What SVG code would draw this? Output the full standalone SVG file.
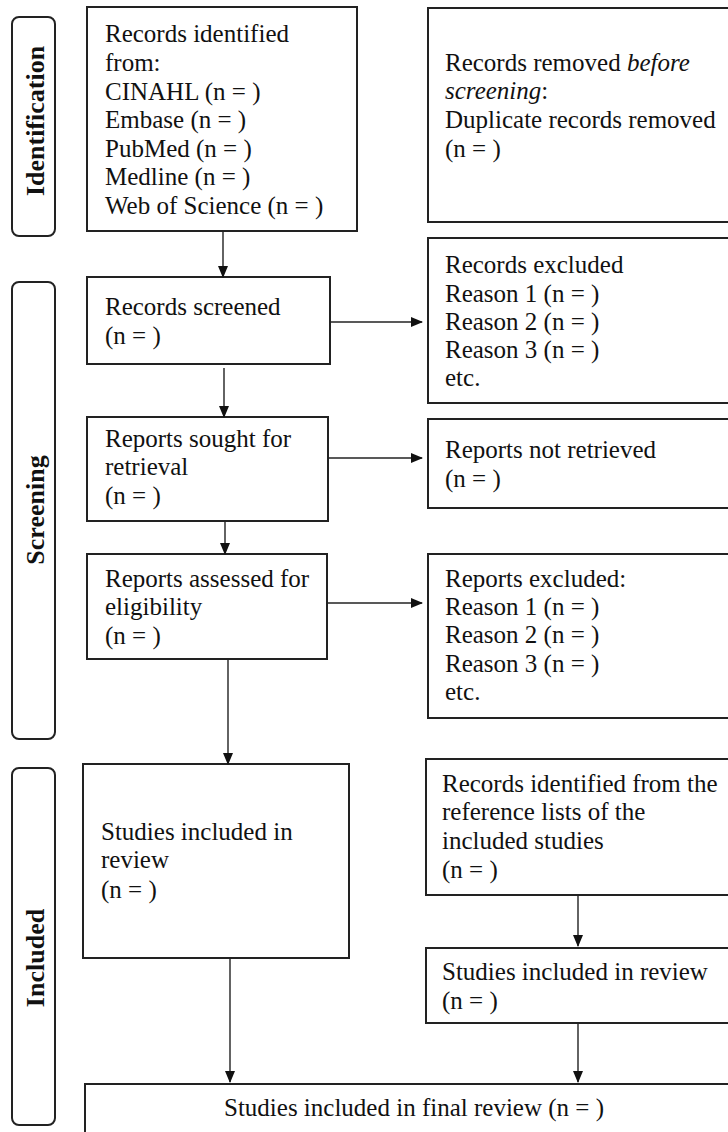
<svg xmlns="http://www.w3.org/2000/svg" width="728" height="1132" viewBox="0 0 728 1132">
<style>
.box{fill:#fff;stroke:#222;stroke-width:2}
.lab{fill:#fff;stroke:#222;stroke-width:2}
.t{font-family:"Liberation Serif","Times New Roman",serif;font-size:25px;fill:#111}
.side{font-family:"Liberation Serif","Times New Roman",serif;font-size:26px;font-weight:bold;fill:#111}
.ln{stroke:#222;stroke-width:1.4;fill:none}
</style>
<defs>
<marker id="ah" markerWidth="12" markerHeight="10" refX="11" refY="5" orient="auto" markerUnits="userSpaceOnUse">
<path d="M0,0 L12,5 L0,10 Z" fill="#111"/>
</marker>
</defs>
<rect width="728" height="1132" fill="#fff"/>
<g id="label-identification">
<rect class="lab" x="12" y="17" width="43" height="219" rx="7"/>
<text class="side" transform="translate(44,121) rotate(-90)" text-anchor="middle">Identification</text>
</g>
<g id="label-screening">
<rect class="lab" x="12" y="282" width="43" height="457" rx="7"/>
<text class="side" transform="translate(44,510) rotate(-90)" text-anchor="middle">Screening</text>
</g>
<g id="label-included">
<rect class="lab" x="12" y="768" width="43" height="357" rx="7"/>
<text class="side" transform="translate(44,958) rotate(-90)" text-anchor="middle">Included</text>
</g>
<g id="records-identified">
<rect class="box" x="87" y="7" width="270" height="224"/>
<text class="t" x="105" y="42">Records identified</text>
<text class="t" x="105" y="71">from:</text>
<text class="t" x="105" y="100">CINAHL (n = )</text>
<text class="t" x="105" y="128">Embase (n = )</text>
<text class="t" x="105" y="157">PubMed (n = )</text>
<text class="t" x="105" y="185">Medline (n = )</text>
<text class="t" x="105" y="214">Web of Science (n = )</text>
</g>
<g id="records-removed">
<rect class="box" x="428" y="8" width="320" height="214"/>
<text class="t" x="445" y="71">Records removed <tspan font-style="italic">before</tspan></text>
<text class="t" x="445" y="99"><tspan font-style="italic">screening</tspan>:</text>
<text class="t" x="445" y="128">Duplicate records removed</text>
<text class="t" x="445" y="157">(n = )</text>
</g>
<g id="records-screened">
<rect class="box" x="87" y="277" width="243" height="87"/>
<text class="t" x="105" y="315">Records screened</text>
<text class="t" x="105" y="344">(n = )</text>
</g>
<g id="records-excluded">
<rect class="box" x="428" y="238" width="320" height="165"/>
<text class="t" x="445" y="273">Records excluded</text>
<text class="t" x="445" y="302">Reason 1 (n = )</text>
<text class="t" x="445" y="330">Reason 2 (n = )</text>
<text class="t" x="445" y="358">Reason 3 (n = )</text>
<text class="t" x="445" y="386">etc.</text>
</g>
<g id="reports-sought">
<rect class="box" x="87" y="417" width="241" height="104"/>
<text class="t" x="105" y="447">Reports sought for</text>
<text class="t" x="105" y="475">retrieval</text>
<text class="t" x="105" y="504">(n = )</text>
</g>
<g id="reports-not-retrieved">
<rect class="box" x="428" y="419" width="320" height="89"/>
<text class="t" x="445" y="458">Reports not retrieved</text>
<text class="t" x="445" y="487">(n = )</text>
</g>
<g id="reports-assessed">
<rect class="box" x="87" y="554" width="240" height="105"/>
<text class="t" x="105" y="587">Reports assessed for</text>
<text class="t" x="105" y="615">eligibility</text>
<text class="t" x="105" y="644">(n = )</text>
</g>
<g id="reports-excluded">
<rect class="box" x="428" y="554" width="320" height="164"/>
<text class="t" x="445" y="587">Reports excluded:</text>
<text class="t" x="445" y="615">Reason 1 (n = )</text>
<text class="t" x="445" y="643">Reason 2 (n = )</text>
<text class="t" x="445" y="672">Reason 3 (n = )</text>
<text class="t" x="445" y="700">etc.</text>
</g>
<g id="studies-included">
<rect class="box" x="83" y="764" width="266" height="194"/>
<text class="t" x="101" y="840">Studies included in</text>
<text class="t" x="101" y="868">review</text>
<text class="t" x="101" y="898">(n = )</text>
</g>
<g id="records-reference-lists">
<rect class="box" x="426" y="759" width="322" height="136"/>
<text class="t" x="442" y="792">Records identified from the</text>
<text class="t" x="442" y="820">reference lists of the</text>
<text class="t" x="442" y="849">included studies</text>
<text class="t" x="442" y="878">(n = )</text>
</g>
<g id="studies-included-2">
<rect class="box" x="426" y="948" width="322" height="75"/>
<text class="t" x="442" y="980">Studies included in review</text>
<text class="t" x="442" y="1009">(n = )</text>
</g>
<g id="final-review">
<rect class="box" x="85" y="1084" width="663" height="60"/>
<text class="t" x="224" y="1116">Studies included in final review (n = )</text>
</g>
<g id="connectors">
<line class="ln" x1="223" y1="231" x2="223" y2="277" marker-end="url(#ah)"/>
<line class="ln" x1="330" y1="322" x2="422" y2="322" marker-end="url(#ah)"/>
<line class="ln" x1="224" y1="368" x2="224" y2="417" marker-end="url(#ah)"/>
<line class="ln" x1="328" y1="458" x2="422" y2="458" marker-end="url(#ah)"/>
<line class="ln" x1="225" y1="521" x2="225" y2="554" marker-end="url(#ah)"/>
<line class="ln" x1="327" y1="603" x2="422" y2="603" marker-end="url(#ah)"/>
<line class="ln" x1="228" y1="659" x2="228" y2="764" marker-end="url(#ah)"/>
<line class="ln" x1="578" y1="895" x2="578" y2="946" marker-end="url(#ah)"/>
<line class="ln" x1="230" y1="958" x2="230" y2="1082" marker-end="url(#ah)"/>
<line class="ln" x1="578" y1="1023" x2="578" y2="1082" marker-end="url(#ah)"/>
</g>
</svg>
